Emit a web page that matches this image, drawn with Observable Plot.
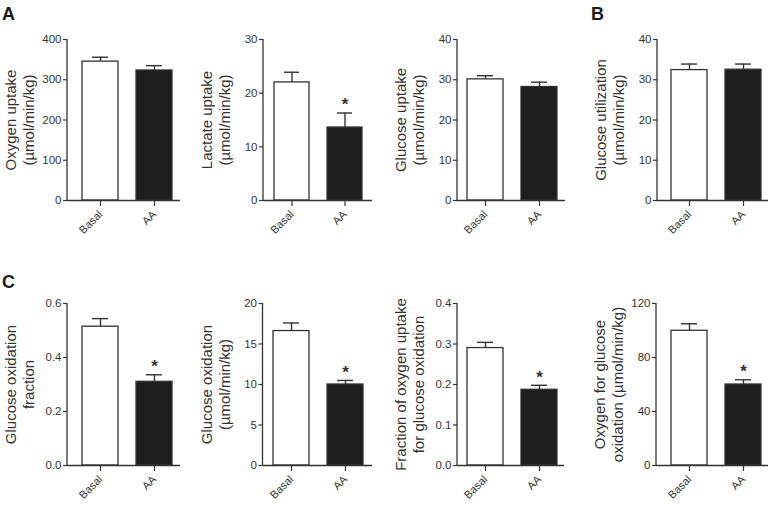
<!DOCTYPE html>
<html>
<head>
<meta charset="utf-8">
<script src="https://cdn.jsdelivr.net/npm/d3@7"></script>
<script src="https://cdn.jsdelivr.net/npm/@observablehq/plot@0.6"></script>
<style>
  body { margin: 0; background: #fff; }
  #fig { position: relative; width: 770px; height: 507px; overflow: hidden; font-family: "Liberation Sans", Arial, sans-serif; }
  #fig svg { position: absolute; overflow: visible; }
  .plabel { position: absolute; font-size: 18px; font-weight: bold; line-height: 18px; color: #1a1a1a; }
</style>
</head>
<body>
<div id="fig"></div>
<script>
// ---- data ----
const categories = ["Basal", "AA"];
const barFills = ["#ffffff", "#1e1e1e"];

const titles = [
  "Oxygen uptake\n(µmol/min/kg)",
  "Lactate uptake\n(µmol/min/kg)",
  "Glucose uptake\n(µmol/min/kg)",
  "Glucose utilization\n(µmol/min/kg)",
  "Glucose oxidation\nfraction",
  "Glucose oxidation\n(µmol/min/kg)",
  "Fraction of oxygen uptake\nfor glucose oxidation",
  "Oxygen for glucose\noxidation (µmol/min/kg)"
];
const means = [
  [345, 323],
  [22.0, 13.6],
  [30.1, 28.2],
  [32.4, 32.5],
  [0.514, 0.31],
  [16.6, 10.0],
  [0.29, 0.187],
  [99.8, 60]
];
const sems = [
  [11, 12],
  [1.9, 2.7],
  [0.9, 1.2],
  [1.5, 1.4],
  [0.03, 0.026],
  [1.0, 0.5],
  [0.014, 0.011],
  [5.2, 3.5]
];
const significant = [
  [false, false],
  [false, true],
  [false, false],
  [false, false],
  [false, true],
  [false, true],
  [false, true],
  [false, true]
];
const yTicks = [
  [0, 100, 200, 300, 400],
  [0, 10, 20, 30],
  [0, 10, 20, 30, 40],
  [0, 10, 20, 30, 40],
  [0, 0.2, 0.4, 0.6],
  [0, 5, 10, 15, 20],
  [0, 0.1, 0.2, 0.3, 0.4],
  [0, 40, 80, 120]
];
const tickFormats = [null, null, null, null, ".1f", null, ".1f", null];
const panelLetters = ["A", "B", "C"];

// ---- layout ----
const ink = "#333333";
const colLeft = [0, 190, 380, 570];
const layout = [
  {axisX: 67,  b0: 14, b1: 105, right: 180},
  {axisX: 263, b0: 10, b1: 99.5, right: 372},
  {axisX: 457, b0: 9,  b1: 100, right: 565},
  {axisX: 657, b0: 14, b1: 104, right: 768},
  {axisX: 67,  b0: 14, b1: 105, right: 180},
  {axisX: 262.5, b0: 10, b1: 100, right: 372},
  {axisX: 457, b0: 9,  b1: 100, right: 564},
  {axisX: 656, b0: 14, b1: 105, right: 768}
];
const rows = [
  {top: 0, height: 250, marginTop: 39, marginBottom: 50},
  {top: 250, height: 257, marginTop: 53, marginBottom: 42}
];

const fig = document.getElementById("fig");

function yAxisLine(index, scales, values, dims) {
  const l = document.createElementNS("http://www.w3.org/2000/svg", "line");
  l.setAttribute("x1", dims.marginLeft);
  l.setAttribute("x2", dims.marginLeft);
  l.setAttribute("y1", dims.marginTop);
  l.setAttribute("y2", dims.height - dims.marginBottom);
  l.setAttribute("stroke", ink);
  l.setAttribute("stroke-width", 1.3);
  return l;
}

for (let p = 0; p < 8; p++) {
  const row = rows[Math.floor(p / 4)];
  const L = layout[p];
  const left = colLeft[p % 4];
  const ml = L.axisX - left;
  const mr = 2;
  const width = L.right - left + mr;
  const data = categories.map((c, i) => ({
    cat: c,
    mean: means[p][i],
    top: means[p][i] + sems[p][i],
    fill: barFills[i],
    sig: significant[p][i]
  }));
  const ticks = yTicks[p];
  const chart = Plot.plot({
    width,
    height: row.height,
    marginLeft: ml,
    marginRight: mr,
    marginTop: row.marginTop,
    marginBottom: row.marginBottom,
    style: {fontFamily: "'Liberation Sans', Arial, sans-serif", color: ink, background: "transparent", overflow: "visible"},
    x: {domain: categories, range: [ml + L.b0, ml + L.b1], paddingInner: 0.34, paddingOuter: 0, label: null},
    y: {domain: [0, ticks[ticks.length - 1]], label: null},
    color: {type: "identity"},
    marks: [
      Plot.ruleX(data, {x: "cat", y1: "mean", y2: "top", stroke: ink, strokeWidth: 1.4}),
      Plot.tickY(data, {x: "cat", y: "top", inset: 10, stroke: ink, strokeWidth: 1.4}),
      Plot.barY(data, {x: "cat", y: "mean", fill: "fill", stroke: ink, strokeWidth: 1.3}),
      Plot.text(data.filter(d => d.sig), {x: "cat", y: "top", text: () => "*", fontSize: 17, fontWeight: "bold", fill: ink, dy: -8, lineAnchor: "middle"}),
      Plot.ruleY([0], {stroke: ink, strokeWidth: 1.3}),
      yAxisLine,
      Plot.axisY({ticks, tickFormat: tickFormats[p] ? d3.format(tickFormats[p]) : undefined, tickSize: 4, tickPadding: 2, fontSize: 11.5, strokeWidth: 1.2, label: null}),
      Plot.axisX({tickRotate: -45, tickSize: 6, tickPadding: 6, fontSize: 11, strokeWidth: 1.2, label: null}),
      Plot.text([titles[p]], {frameAnchor: "left", dx: -48, rotate: -90, fontSize: 15, lineHeight: 1.2, lineAnchor: "middle", textAnchor: "middle", fill: ink})
    ]
  });
  chart.style.left = left + "px";
  chart.style.top = row.top + "px";
  fig.appendChild(chart);
}

const letterPos = [[2, 5], [591, 5], [2, 273]];
panelLetters.forEach((t, i) => {
  const s = document.createElement("div");
  s.className = "plabel";
  s.textContent = t;
  s.style.left = letterPos[i][0] + "px";
  s.style.top = letterPos[i][1] + "px";
  fig.appendChild(s);
});
</script>
</body>
</html>
